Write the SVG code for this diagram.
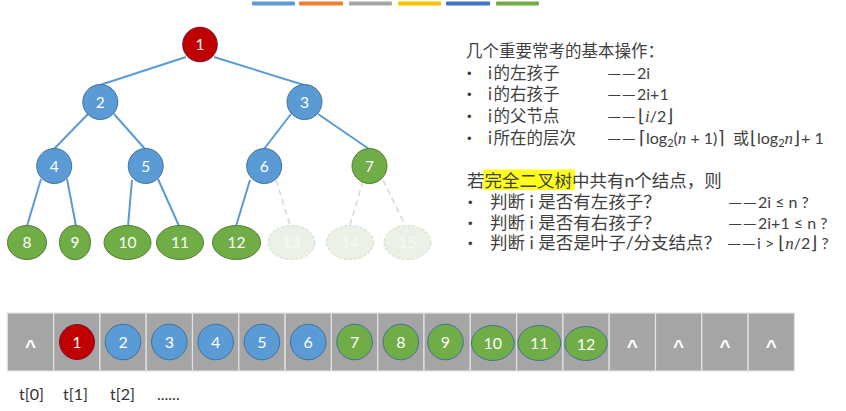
<svg xmlns="http://www.w3.org/2000/svg" width="846" height="411" viewBox="0 0 846 411">
<style>
.edge{stroke:#5B9BD5;stroke-width:2;fill:none}
.dash{stroke:#D9D9D9;stroke-width:1.6;fill:none;stroke-dasharray:6 4}
.blue{fill:#5B9BD5;stroke:#41719C;stroke-width:1}
.green{fill:#70AD47;stroke:#507E32;stroke-width:1}
.greenA{fill:#70AD47;stroke:#41719C;stroke-width:1}
.red{fill:#C00000;stroke:#7A1030;stroke-width:1}
.faded{fill:#EBF1E6;stroke:#D2DACB;stroke-width:1;stroke-dasharray:3 2}
.nt{font-family:Lato,"Liberation Sans",sans-serif;font-size:15.5px;fill:#FFFFFF;text-anchor:middle}
.ft{font-family:Lato,"Liberation Sans",sans-serif;font-size:15.5px;fill:#F7F9F5;text-anchor:middle}
.at{font-family:Lato,"Liberation Sans",sans-serif;font-size:16px;fill:#FFFFFF;text-anchor:middle}
.cell{fill:#A5A5A5;stroke:#E3E3E3;stroke-width:1.2}
.caret{font-family:"Liberation Sans",sans-serif;font-weight:bold;font-size:19px;fill:#FFFFFF;text-anchor:middle}
.cn1{font-family:Lato,"Noto Sans CJK SC",sans-serif;font-size:16.5px;fill:#3F3F3F}
.cn2{font-family:Lato,"Noto Sans CJK SC",sans-serif;font-size:17.5px;fill:#3F3F3F}
.bul{font-family:"Liberation Sans",sans-serif;font-size:13px;fill:#3F3F3F}
.fx{font-family:Lato,"DejaVu Sans","Noto Sans CJK SC",sans-serif;font-size:16px;fill:#3F3F3F}
.br{font-family:"DejaVu Sans",sans-serif;font-size:18px}
.mi{font-family:"Liberation Serif",serif;font-style:italic;font-size:17px}
.lbl{font-family:Lato,"Liberation Sans",sans-serif;font-size:16px;fill:#333333}
</style>

<g id="colorbars">
<rect x="252" y="1.5" width="43" height="4" rx="1" fill="#5B9BD5"/>
<rect x="299" y="1.5" width="44" height="4" rx="1" fill="#ED7D31"/>
<rect x="349" y="1.5" width="43" height="4" rx="1" fill="#A5A5A5"/>
<rect x="398" y="1.5" width="43" height="4" rx="1" fill="#FFC000"/>
<rect x="446" y="1.5" width="44" height="4" rx="1" fill="#4472C4"/>
<rect x="496" y="1.5" width="43" height="4" rx="1" fill="#70AD47"/>
</g>

<g id="connectors">
<line class="edge" x1="186" y1="57" x2="100" y2="85"/>
<line class="edge" x1="214" y1="57" x2="304" y2="85"/>
<line class="edge" x1="88" y1="114" x2="54" y2="149"/>
<line class="edge" x1="114" y1="114" x2="145" y2="149"/>
<line class="edge" x1="291" y1="114" x2="264" y2="149"/>
<line class="edge" x1="318" y1="114" x2="369" y2="149"/>
<line class="edge" x1="41" y1="179" x2="27" y2="226"/>
<line class="edge" x1="67" y1="179" x2="76" y2="226"/>
<line class="edge" x1="132" y1="180" x2="128" y2="226"/>
<line class="edge" x1="158" y1="179" x2="179" y2="226"/>
<line class="edge" x1="250" y1="180" x2="236" y2="226"/>
<line class="dash" x1="276" y1="180" x2="290" y2="225"/>
<line class="dash" x1="363" y1="181" x2="350" y2="225"/>
<line class="dash" x1="383" y1="180" x2="405" y2="225"/>
</g>

<g id="n1"><circle class="red" cx="200" cy="44.5" r="17.3"/><text class="nt" x="200" y="50">1</text></g>
<g id="n2"><circle class="blue" cx="100.3" cy="102" r="17.5"/><text class="nt" x="100.3" y="107.5">2</text></g>
<g id="n3"><circle class="blue" cx="304.5" cy="102" r="17.5"/><text class="nt" x="304.5" y="107.5">3</text></g>
<g id="n4"><circle class="blue" cx="54.2" cy="166" r="17.5"/><text class="nt" x="54.2" y="171.5">4</text></g>
<g id="n5"><circle class="blue" cx="145.7" cy="166" r="17.5"/><text class="nt" x="145.7" y="171.5">5</text></g>
<g id="n6"><circle class="blue" cx="264.2" cy="166" r="17.5"/><text class="nt" x="264.2" y="171.5">6</text></g>
<g id="n7"><circle class="green" cx="369.5" cy="166" r="17.5"/><text class="nt" x="369.5" y="171.5">7</text></g>
<g id="n8"><ellipse class="green" cx="27" cy="242.5" rx="19.5" ry="17"/><text class="nt" x="27" y="248">8</text></g>
<g id="n9"><ellipse class="green" cx="75" cy="242.5" rx="15.5" ry="17.3"/><text class="nt" x="75" y="248">9</text></g>
<g id="n10"><ellipse class="green" cx="127.5" cy="242.5" rx="23.5" ry="17"/><text class="nt" x="127.5" y="248">10</text></g>
<g id="n11"><ellipse class="green" cx="180" cy="242.5" rx="23.5" ry="17"/><text class="nt" x="180" y="248">11</text></g>
<g id="n12"><ellipse class="green" cx="236.5" cy="242.5" rx="24" ry="17"/><text class="nt" x="236.5" y="248">12</text></g>
<g id="n13"><ellipse class="faded" cx="291.5" cy="242.5" rx="23.5" ry="17"/><text class="ft" x="291.5" y="248">13</text></g>
<g id="n14"><ellipse class="faded" cx="350" cy="242.5" rx="23.5" ry="17"/><text class="ft" x="350" y="248">14</text></g>
<g id="n15"><ellipse class="faded" cx="407.5" cy="242.5" rx="23.5" ry="17"/><text class="ft" x="407.5" y="248">15</text></g>

<g id="ops">
<text class="cn1" x="466" y="57">几个重要常考的基本操作：</text>
<text class="bul" x="467" y="77.5">•</text><text class="cn1" x="488" y="78.7">i<tspan dx="1.5">的左孩子</tspan></text>
<text class="bul" x="467" y="99.2">•</text><text class="cn1" x="488" y="100.4">i<tspan dx="1.5">的右孩子</tspan></text>
<text class="bul" x="467" y="120.8">•</text><text class="cn1" x="488" y="122">i<tspan dx="1.5">的父节点</tspan></text>
<text class="bul" x="467" y="142.6">•</text><text class="cn1" x="488" y="143.8">i<tspan dx="1.5">所在的层次</tspan></text>
<text class="fx" x="607" y="78.7" textLength="29" lengthAdjust="spacingAndGlyphs">——</text>
<text class="fx" x="637" y="78.7">2i</text>
<text class="fx" x="607" y="100.4" textLength="29" lengthAdjust="spacingAndGlyphs">——</text>
<text class="fx" x="637" y="100.4">2i+1</text>
<text class="fx" x="607" y="122" textLength="29" lengthAdjust="spacingAndGlyphs">——</text>
<text class="fx" x="638" y="122"><tspan class="br">⌊</tspan><tspan class="mi">i</tspan>/2<tspan class="br">⌋</tspan></text>
<text class="fx" x="607" y="143.8" textLength="29" lengthAdjust="spacingAndGlyphs">——</text>
<text class="fx" x="639" y="143.8"><tspan class="br">⌈</tspan>log<tspan font-size="11" dy="3">2</tspan><tspan dy="-3">(</tspan><tspan class="mi">n</tspan> + 1)<tspan class="br">⌉</tspan></text>
<text class="fx" x="733" y="143.8">或</text>
<text class="fx" x="750" y="143.8"><tspan class="br">⌊</tspan>log<tspan font-size="11" dy="3">2</tspan><tspan dy="-3" class="mi">n</tspan><tspan class="br">⌋</tspan><tspan dx="1">+ 1</tspan></text>
</g>

<g id="complete">
<rect x="483" y="169.5" width="92" height="20.5" fill="#FFFF1A"/>
<text class="cn2" x="467" y="186.5">若完全二叉树中共有n个结点，则</text>
<text class="bul" x="468" y="206.5">•</text><text class="cn2" x="490" y="207.5">判断 i 是否有左孩子？</text>
<text class="bul" x="468" y="227.5">•</text><text class="cn2" x="490" y="228.5">判断 i 是否有右孩子？</text>
<text class="bul" x="468" y="248">•</text><text class="cn2" x="490" y="249">判断 i 是否是叶子/分支结点？</text>
<text class="fx" x="728" y="207.5" textLength="29" lengthAdjust="spacingAndGlyphs">——</text>
<text class="fx" x="758" y="207.5">2i ≤ n ?</text>
<text class="fx" x="728" y="228.5" textLength="29" lengthAdjust="spacingAndGlyphs">——</text>
<text class="fx" x="758" y="228.5">2i+1 ≤ n ?</text>
<text class="fx" x="727" y="249" textLength="29" lengthAdjust="spacingAndGlyphs">——</text>
<text class="fx" x="757" y="249">i &gt; <tspan class="br">⌊</tspan><tspan class="mi">n</tspan>/2<tspan class="br">⌋</tspan> ?</text>
</g>

<g id="array">
<g id="a0"><rect class="cell" x="7.3" y="313" width="46.3" height="58"/><text class="caret" x="30.45" y="353">^</text></g>
<g id="a1"><rect class="cell" x="53.6" y="313" width="46.3" height="58"/><circle class="red" cx="77" cy="342" r="17.5"/><text class="at" x="77" y="348">1</text></g>
<g id="a2"><rect class="cell" x="99.9" y="313" width="46.3" height="58"/><circle class="blue" cx="123.05" cy="342" r="17.8"/><text class="at" x="123.05" y="348">2</text></g>
<g id="a3"><rect class="cell" x="146.2" y="313" width="46.3" height="58"/><circle class="blue" cx="169.35" cy="342" r="17.8"/><text class="at" x="169.35" y="348">3</text></g>
<g id="a4"><rect class="cell" x="192.5" y="313" width="46.3" height="58"/><circle class="blue" cx="215.65" cy="342" r="17.8"/><text class="at" x="215.65" y="348">4</text></g>
<g id="a5"><rect class="cell" x="238.8" y="313" width="46.3" height="58"/><circle class="blue" cx="261.95" cy="342" r="17.8"/><text class="at" x="261.95" y="348">5</text></g>
<g id="a6"><rect class="cell" x="285.1" y="313" width="46.3" height="58"/><circle class="blue" cx="308.25" cy="342" r="17.8"/><text class="at" x="308.25" y="348">6</text></g>
<g id="a7"><rect class="cell" x="331.4" y="313" width="46.3" height="58"/><circle class="greenA" cx="354.55" cy="342" r="17.8"/><text class="at" x="354.55" y="348">7</text></g>
<g id="a8"><rect class="cell" x="377.7" y="313" width="46.3" height="58"/><circle class="greenA" cx="400.85" cy="342" r="17.8"/><text class="at" x="400.85" y="348">8</text></g>
<g id="a9"><rect class="cell" x="424" y="313" width="46.3" height="58"/><circle class="greenA" cx="445.5" cy="342" r="17.8"/><text class="at" x="445.5" y="348">9</text></g>
<g id="a10"><rect class="cell" x="470.3" y="313" width="46.3" height="58"/><ellipse class="greenA" cx="492.8" cy="343" rx="21.3" ry="17.5"/><text class="at" x="492.8" y="349">10</text></g>
<g id="a11"><rect class="cell" x="516.6" y="313" width="46.3" height="58"/><ellipse class="greenA" cx="539.3" cy="343" rx="21.5" ry="17.5"/><text class="at" x="539.3" y="349">11</text></g>
<g id="a12"><rect class="cell" x="562.9" y="313" width="46.3" height="58"/><ellipse class="greenA" cx="586" cy="343.5" rx="21.2" ry="17"/><text class="at" x="586" y="349.5">12</text></g>
<g id="a13"><rect class="cell" x="609.2" y="313" width="46.3" height="58"/><text class="caret" x="632.35" y="353">^</text></g>
<g id="a14"><rect class="cell" x="655.5" y="313" width="46.3" height="58"/><text class="caret" x="678.65" y="353">^</text></g>
<g id="a15"><rect class="cell" x="701.8" y="313" width="46.3" height="58"/><text class="caret" x="724.95" y="353">^</text></g>
<g id="a16"><rect class="cell" x="748.1" y="313" width="46.3" height="58"/><text class="caret" x="771.25" y="353">^</text></g>
</g>

<g id="labels">
<text class="lbl" x="19" y="400">t[0]</text>
<text class="lbl" x="63" y="400">t[1]</text>
<text class="lbl" x="110" y="400">t[2]</text>
<text class="lbl" x="157" y="400">......</text>
</g>
</svg>
